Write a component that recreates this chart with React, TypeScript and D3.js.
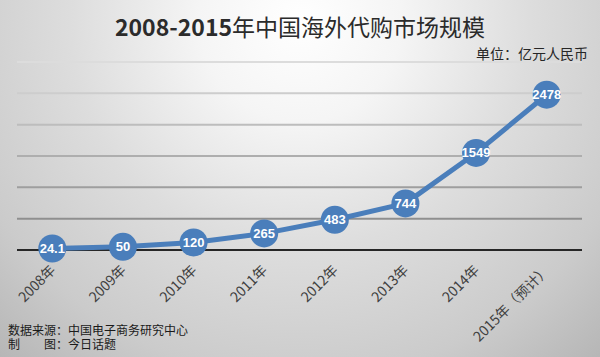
import React from "react";
import * as d3 from "d3";

const categories = ["2008年", "2009年", "2010年", "2011年", "2012年", "2013年", "2014年", "2015年（预计）"];
const values = [24.1, 50, 120, 265, 483, 744, 1549, 2478];
const valueLabels = ["24.1", "50", "120", "265", "483", "744", "1549", "2478"];
const yTicks = [0, 500, 1000, 1500, 2000, 2500, 3000];
const titleNum = "2008-2015";
const titleCjk = "年中国海外代购市场规模";
const unitText = "单位：亿元人民币";
const sourceLines = ["数据来源：中国电子商务研究中心", "制\u3000\u3000图：今日话题"];

const W = 600;
const H = 357;
const FONT = "'Noto Sans CJK SC', 'Noto Sans', sans-serif";

export default function App() {
  const x = d3.scalePoint<string>().domain(categories).range([17, 582]).padding(0.5);
  const y = d3.scaleLinear().domain([0, 3000]).range([250, 62]);
  const line = d3
    .line<number>()
    .x((_, i) => x(categories[i]) as number)
    .y((d) => y(d));
  const gridColor = d3.scaleLinear<string>().domain([500, 3000]).range(["#8f8f8f", "#dcdcdc"]);

  return (
    <svg
      width={W}
      height={H}
      style={{ position: "absolute", left: 0, top: 0, display: "block" }}
    >
      <defs>
        <radialGradient id="bg" gradientUnits="userSpaceOnUse" cx={300} cy={20} r={460} fx={300} fy={20}>
          <stop offset="0" stopColor="#ffffff" />
          <stop offset="0.22" stopColor="#f5f5f5" />
          <stop offset="0.5" stopColor="#dddddd" />
          <stop offset="0.78" stopColor="#cbcbcb" />
          <stop offset="1" stopColor="#b4b4b4" />
        </radialGradient>
      </defs>
      <rect x={0} y={0} width={W} height={H} fill="url(#bg)" />

      {/* gridlines */}
      {yTicks.slice(1).map((t) => (
        <line key={t} x1={17} x2={582} y1={y(t)} y2={y(t)} stroke={gridColor(t)} strokeWidth={2} />
      ))}
      <line x1={17} x2={582} y1={y(0)} y2={y(0)} stroke="#262626" strokeWidth={2} />

      {/* title */}
      <text x={300} y={36} textAnchor="middle" fontFamily={FONT} fontSize={23} fill="#2b2b2b">
        <tspan fontWeight="bold">{titleNum}</tspan>
        <tspan>{titleCjk}</tspan>
      </text>
      <text x={588} y={59} textAnchor="end" fontFamily={FONT} fontSize={14} fill="#262626">
        {unitText}
      </text>

      {/* line */}
      <path d={line(values) || ""} fill="none" stroke="#4a7ebb" strokeWidth={5} strokeLinejoin="round" />
      {values.map((v, i) => (
        <g key={i} transform={`translate(${x(categories[i])},${y(v)})`}>
          <circle r={14} fill="#4a7ebb" />
          <text
            textAnchor="middle"
            dy="0.35em"
            fontFamily="'Liberation Sans', Arial, sans-serif"
            fontWeight="bold"
            fontSize={13}
            fill="#ffffff"
          >
            {valueLabels[i]}
          </text>
        </g>
      ))}

      {/* x labels */}
      {categories.map((c) => (
        <text
          key={c}
          transform={`translate(${(x(c) as number) + 4},${271}) rotate(-45)`}
          textAnchor="end"
          fontFamily={FONT}
          fontSize={14}
          fill="#404040"
        >
          {c}
        </text>
      ))}

      {/* source */}
      {sourceLines.map((s, i) => (
        <text key={i} x={8} y={335 + i * 14} fontFamily={FONT} fontSize={12} fill="#1a1a1a">
          {s}
        </text>
      ))}
    </svg>
  );
}
